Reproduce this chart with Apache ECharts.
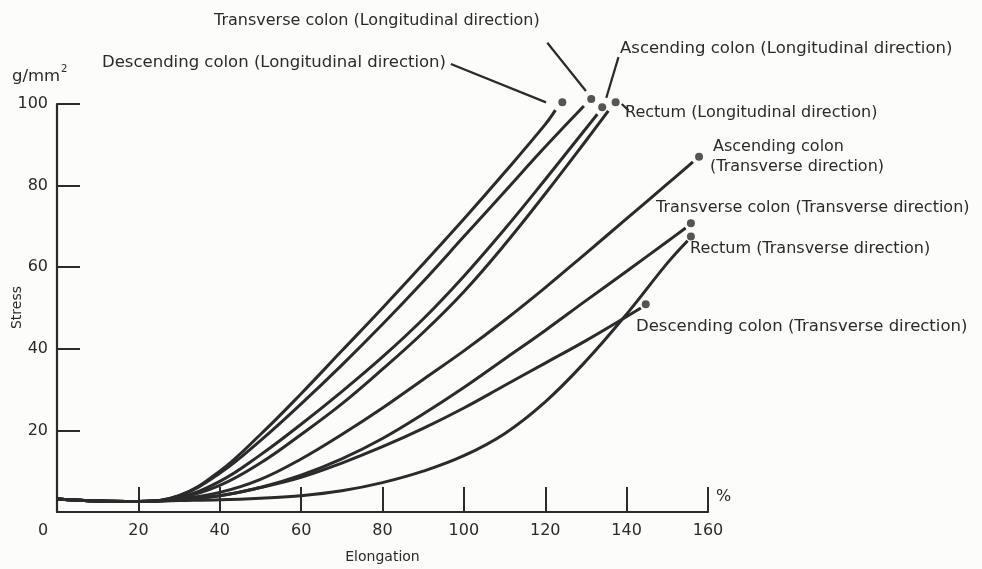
<!DOCTYPE html>
<html>
<head>
<meta charset="utf-8">
<script src="https://cdn.jsdelivr.net/npm/echarts@6/dist/echarts.min.js"></script>
<style>
html,body{margin:0;padding:0;background:#fcfcfb;}
#chart{width:982px;height:569px;}
</style>
</head>
<body>
<div id="chart"></div>
<script>
// ---- axis ticks ----
const xTicks = [0, 20, 40, 60, 80, 100, 120, 140, 160];
const yTicks = [0, 20, 40, 60, 80, 100];

// ---- series names ----
const seriesNames = [
  'Descending colon (Longitudinal direction)',
  'Transverse colon (Longitudinal direction)',
  'Ascending colon (Longitudinal direction)',
  'Rectum (Longitudinal direction)',
  'Ascending colon (Transverse direction)',
  'Transverse colon (Transverse direction)',
  'Rectum (Transverse direction)',
  'Descending colon (Transverse direction)'
];

// ---- curve values (elongation %, stress g/mm2) ----
const descLongX = [0, 10, 20, 30, 40, 50, 60, 70, 80, 90, 100, 110, 120, 122.5];
const descLongY = [3.2, 2.7, 2.6, 4, 10, 19, 29, 39.5, 50, 60.8, 71.8, 83.2, 95, 98.5];
const transLongX = [0, 10, 20, 30, 40, 50, 60, 70, 80, 90, 100, 110, 120, 129.5];
const transLongY = [3.2, 2.7, 2.6, 4, 9.5, 17.5, 26.5, 36, 46, 56.5, 67.5, 78.5, 89.5, 99.5];
const ascLongX = [0, 10, 20, 30, 40, 50, 60, 70, 80, 90, 100, 110, 120, 130, 132.8];
const ascLongY = [3.2, 2.7, 2.6, 3.6, 7.5, 14, 21.5, 29.5, 38, 47.3, 57.8, 69.3, 81.5, 94, 97.5];
const rectLongX = [0, 10, 20, 30, 40, 50, 60, 70, 80, 90, 100, 110, 120, 130, 135.5];
const rectLongY = [3.2, 2.7, 2.6, 3.4, 6.5, 12, 19, 26.5, 35, 44, 54, 65.5, 78, 91, 98.3];
const ascTransX = [0, 10, 20, 30, 40, 50, 60, 70, 80, 90, 100, 110, 120, 130, 140, 150, 156.3];
const ascTransY = [3.2, 2.7, 2.6, 3.2, 4.8, 8, 13, 19, 25.5, 32.5, 39.5, 47, 55, 63.4, 71.9, 80.4, 85.8];
const transTransX = [0, 10, 20, 30, 40, 50, 60, 70, 80, 90, 100, 110, 120, 130, 140, 150, 154.5];
const transTransY = [3.2, 2.7, 2.6, 3, 4, 6, 9, 13, 18, 24, 30.5, 37.5, 44.5, 51.8, 59, 66.3, 69.6];
const rectTransX = [0, 10, 20, 30, 40, 50, 60, 70, 80, 90, 100, 110, 120, 130, 140, 150, 155];
const rectTransY = [3.2, 2.7, 2.6, 2.8, 3, 3.4, 4, 5.2, 7.2, 10, 13.8, 19.2, 27, 37, 48.5, 61, 66.5];
const descTransX = [0, 10, 20, 30, 40, 50, 60, 70, 80, 90, 100, 110, 120, 130, 143.5];
const descTransY = [3.2, 2.7, 2.6, 3, 4, 6, 8.5, 12, 16, 20.5, 25.5, 31, 36.5, 42, 50];

// ---- end-point dots ----
const dotX = [124.2, 131.3, 134.0, 137.3, 157.8, 155.8, 155.8, 144.7];
const dotY = [100.4, 101.2, 99.2, 100.4, 87.1, 70.8, 67.5, 50.9];

// ---- leader lines (label -> dot), data units ----
const leaderDescLongX = [96.8, 120.2];
const leaderDescLongY = [109.8, 100.4];
const leaderTransLongX = [120.5, 130.0];
const leaderTransLongY = [115.0, 103.2];
const leaderAscLongX = [138.0, 135.0];
const leaderAscLongY = [111.5, 101.5];
const leaderRectLongX = [138.8, 140.5];
const leaderRectLongY = [100.0, 98.4];

const curves = [
  [descLongX, descLongY], [transLongX, transLongY], [ascLongX, ascLongY], [rectLongX, rectLongY],
  [ascTransX, ascTransY], [transTransX, transTransY], [rectTransX, rectTransY], [descTransX, descTransY]
];
const leaders = [
  [leaderDescLongX, leaderDescLongY], [leaderTransLongX, leaderTransLongY],
  [leaderAscLongX, leaderAscLongY], [leaderRectLongX, leaderRectLongY]
];

const zip = (xs, ys) => xs.map((x, i) => [x, ys[i]]);
const INK = '#2b2b2b';
const FONT = '"DejaVu Sans", "Liberation Sans", Arial, sans-serif';

const series = [];
curves.forEach((c, i) => {
  series.push({
    name: seriesNames[i], type: 'line', data: zip(c[0], c[1]),
    smooth: 0.4, clip: false, showSymbol: false, silent: true,
    lineStyle: {color: INK, width: 3}, z: 3
  });
});
leaders.forEach((l) => {
  series.push({
    type: 'line', data: zip(l[0], l[1]), showSymbol: false, silent: true, clip: false,
    lineStyle: {color: INK, width: 2.2}, z: 3
  });
});
series.push({
  type: 'scatter', data: zip(dotX, dotY), symbolSize: 8, silent: true, clip: false,
  itemStyle: {color: INK}, z: 4
});

const labelStyle = (x, y, text, size) => ({
  type: 'text', left: x, top: y,
  style: {text: text, font: (size || 16) + 'px ' + FONT, fill: '#2a2a2a'}
});

const option = {
  backgroundColor: '#fcfcfb',
  animation: false,
  grid: {left: 57, right: 274, top: 104, bottom: 57, containLabel: false, outerBoundsMode: 'none'},
  xAxis: {
    type: 'value', min: xTicks[0], max: xTicks[xTicks.length - 1], interval: 20,
    name: 'Elongation', nameLocation: 'middle', nameGap: 38,
    nameTextStyle: {fontSize: 14, fontFamily: FONT, color: '#2a2a2a'},
    axisLine: {lineStyle: {color: INK, width: 2.2}},
    axisTick: {inside: true, length: 25, lineStyle: {color: INK, width: 2}},
    splitLine: {show: false},
    axisLabel: {
      color: '#2a2a2a', fontSize: 16, fontFamily: FONT, margin: 11,
      formatter: (v) => v === 0 ? '{z|0}' : String(v),
      rich: {z: {fontSize: 16, fontFamily: FONT, color: '#2a2a2a', padding: [0, 28, 8, 0]}}
    }
  },
  yAxis: {
    type: 'value', min: yTicks[0], max: yTicks[yTicks.length - 1], interval: 20,
    axisLine: {show: true, lineStyle: {color: INK, width: 2.2}},
    axisTick: {show: true, inside: true, length: 23, lineStyle: {color: INK, width: 2}},
    splitLine: {show: false},
    axisLabel: {
      color: '#2a2a2a', fontSize: 16, fontFamily: FONT, margin: 9,
      formatter: (v) => v === 0 ? '' : String(v)
    }
  },
  graphic: [
    labelStyle(214, 13, seriesNames[1], 16),
    labelStyle(102, 54, seriesNames[0], 16.5),
    labelStyle(620, 40, seriesNames[2], 16.5),
    labelStyle(625, 105, seriesNames[3], 16),
    labelStyle(713, 139, 'Ascending colon', 16),
    labelStyle(710, 159, '(Transverse direction)', 16),
    labelStyle(656, 200, seriesNames[5], 16),
    labelStyle(690, 241, seriesNames[6], 16),
    labelStyle(636, 318, seriesNames[7], 16.5),
    {type: 'text', left: 12, top: 68, style: {text: 'g/mm', font: '16.5px ' + FONT, fill: '#2a2a2a'}},
    {type: 'text', left: 61, top: 64, style: {text: '2', font: '10px ' + FONT, fill: '#2a2a2a'}},
    {type: 'text', left: 10, top: 286, rotation: Math.PI / 2,
      style: {text: 'Stress', font: '14px ' + FONT, fill: '#2a2a2a'}},
    {type: 'text', left: 716, top: 489, style: {text: '%', font: '16px ' + FONT, fill: '#2a2a2a'}}
  ],
  series: series
};

const chart = echarts.init(document.getElementById('chart'), null, {renderer: 'canvas'});
chart.setOption(option);
</script>
</body>
</html>
